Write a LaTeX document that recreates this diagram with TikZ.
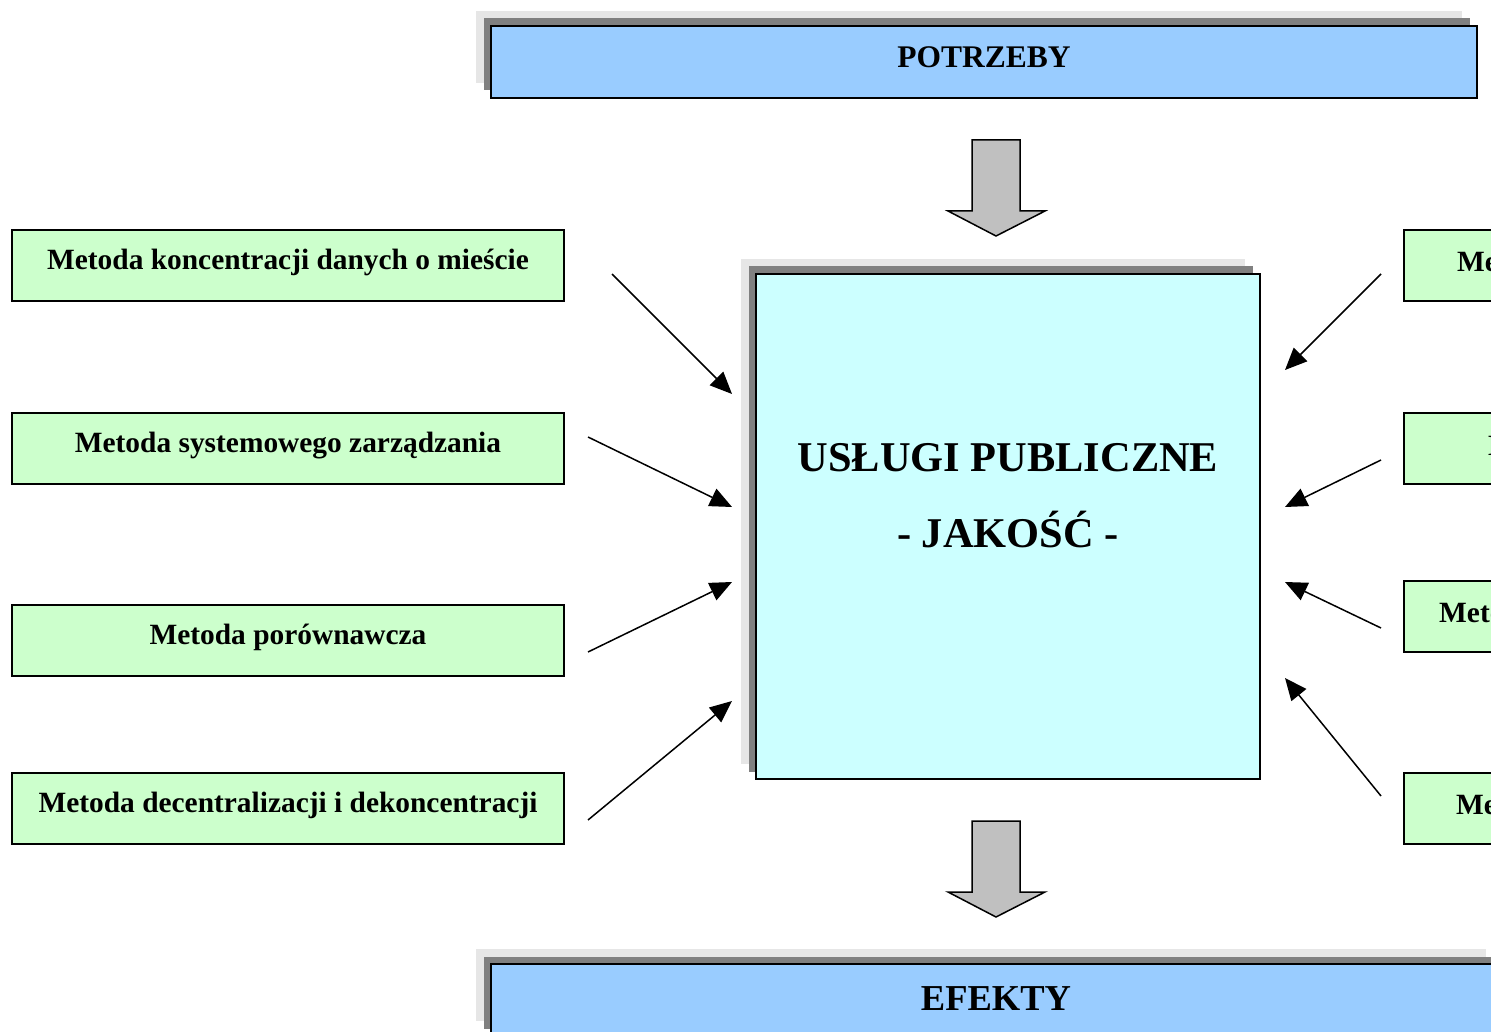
\documentclass[tikz,border=0pt]{standalone}
\usepackage{fontspec}
\setmainfont{Liberation Serif}
\usetikzlibrary{arrows.meta,shadows}

\definecolor{boxblue}{HTML}{99CCFF}
\definecolor{boxcyan}{HTML}{CCFFFF}
\definecolor{boxgreen}{HTML}{CCFFCC}
\definecolor{shadowlight}{HTML}{E6E6E6}
\definecolor{shadowdark}{HTML}{808080}
\definecolor{arrowgray}{HTML}{C0C0C0}

\tikzset{
  layered/.style={
    general shadow={fill=shadowlight, shadow xshift=-15pt, shadow yshift=15pt},
    general shadow={fill=shadowdark, shadow xshift=-7.5pt, shadow yshift=7.5pt}},
  bluebox/.style={draw=black, line width=2pt, fill=boxblue, inner sep=0pt,
    minimum height=72pt, layered},
  centerbox/.style={draw=black, line width=2pt, fill=boxcyan, inner sep=0pt,
    minimum width=504pt, minimum height=505pt, layered},
  methodbox/.style={draw=black, line width=1.5pt, fill=boxgreen, inner sep=0pt,
    minimum width=552pt, minimum height=71pt},
  methodtext/.style={font=\fontsize{29.4}{33}\selectfont\bfseries, inner sep=0pt},
  pointer/.style={line width=1.5pt, -{Triangle[length=22pt,width=19pt]}},
  blockarrow/.style={draw=black, line width=1.5pt, fill=arrowgray, line join=miter},
}

\begin{document}
\begin{tikzpicture}[x=1pt,y=-1pt]
\useasboundingbox (0,0) rectangle (1491,1032);
\clip (0,0) rectangle (1491,1032);

% needs and effects
\node[bluebox, minimum width=986pt] (potrzeby) at (984,62) {};
\node[font=\fontsize{31.5}{36}\selectfont\bfseries] (potrzebytxt) at (984,57) {POTRZEBY};
\node[bluebox, minimum width=1010pt] (efekty) at (996,1000) {};
\node[font=\fontsize{36.5}{40}\selectfont\bfseries] (efektytxt) at (996,999) {EFEKTY};

% central block
\node[centerbox] (uslugi) at (1008,526.5) {};
\node[font=\fontsize{42.4}{76}\selectfont\bfseries, align=center] (uslugitxt)
  at (1008,496) {USŁUGI PUBLICZNE\\- JAKOŚĆ -};

% block arrows in and out
\coordinate (inA) at (996,140);
\coordinate (outA) at (996,821);
\foreach \c in {inA,outA}
  \draw[blockarrow] (\c) ++(-24,0) -- ++(48,0) -- ++(0,71) -- ++(25,0)
    -- ++(-49,25) -- ++(-48,-25) -- ++(24,0) -- cycle;

% methods on the left
\node[methodbox] (m1) at (288,265.5) {};
\node[methodtext] (m1t) at (288,262.5) {Metoda koncentracji danych o mieście};
\node[methodbox] (m2) at (288,448.5) {};
\node[methodtext] (m2t) at (288,445.5) {Metoda systemowego zarządzania};
\node[methodbox] (m3) at (288,640.5) {};
\node[methodtext] (m3t) at (288,637.5) {Metoda porównawcza};
\node[methodbox] (m4) at (288,808.5) {};
\node[methodtext] (m4t) at (288,805.5) {Metoda decentralizacji i dekoncentracji};

% methods on the right, running on past the edge
\node[methodbox] (r1) at (1680,265.5) {};
\node[methodtext, anchor=west] (r1t) at (1457,262.5) {Me};
\node[methodbox] (r2) at (1680,448.5) {};
\node[methodtext, anchor=west] (r2t) at (1488,445.5) {M};
\node[methodbox] (r3) at (1680,616.5) {};
\node[methodtext, anchor=west] (r3t) at (1439,613.5) {Meto};
\node[methodbox] (r4) at (1680,808.5) {};
\node[methodtext, anchor=west] (r4t) at (1456,805.5) {Me};

% influence arrows
\coordinate (l1s) at (612,274);  \coordinate (l1e) at (732,394);
\coordinate (l2s) at (588,437);  \coordinate (l2e) at (732,507);
\coordinate (l3s) at (588,652);  \coordinate (l3e) at (732,582);
\coordinate (l4s) at (588,820);  \coordinate (l4e) at (732,701);
\coordinate (r1s) at (1381,274); \coordinate (r1e) at (1285,370);
\coordinate (r2s) at (1381,460); \coordinate (r2e) at (1285,507);
\coordinate (r3s) at (1381,628); \coordinate (r3e) at (1285,582);
\coordinate (r4s) at (1381,796); \coordinate (r4e) at (1285,678);
\foreach \a in {l1,l2,l3,l4,r1,r2,r3,r4}
  \draw[pointer] (\a s) -- (\a e);
\end{tikzpicture}
\end{document}
